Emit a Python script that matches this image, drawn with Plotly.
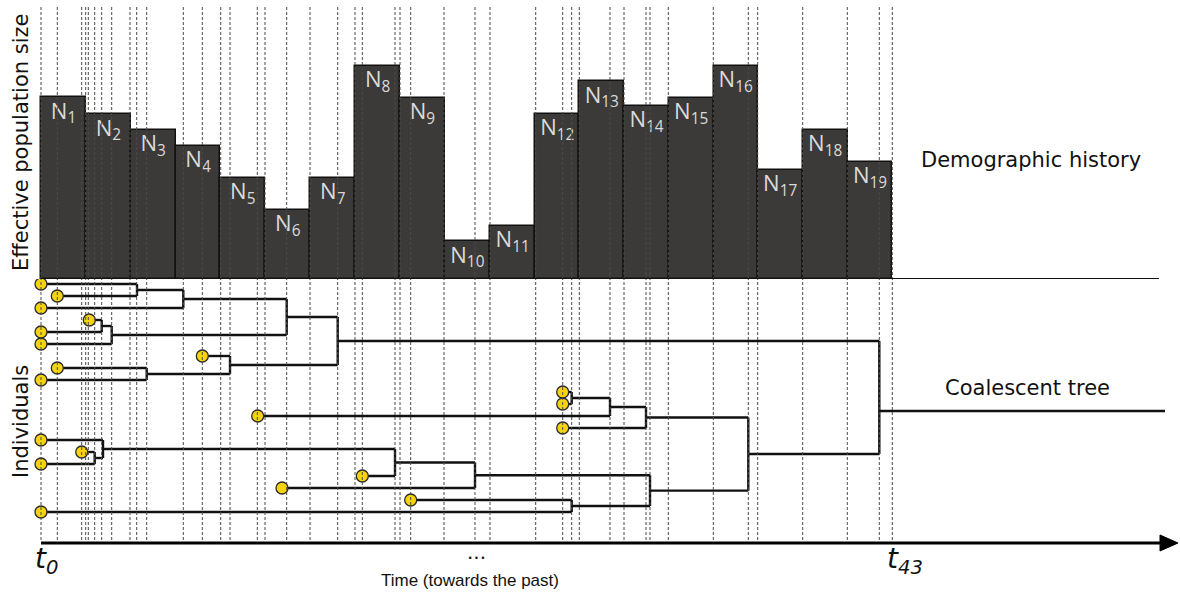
import plotly.graph_objects as go

W, H = 1180, 599

# ---------------- data ----------------
# time grid t0..t43 (time units, t0 = 0)
time_points = [0, 16.3, 40.7, 44.7, 47.3, 53.7, 60.7, 70.7, 89, 95.7, 105.7, 142.3,
               161.3, 179.7, 189, 216.3, 224, 245.7, 269, 296.7, 314, 321.3, 354, 359,
               369.7, 403, 434, 449, 494.7, 521.7, 530.7, 538.3, 569, 583, 605, 609,
               627.3, 672.3, 707.3, 716.7, 761.7, 806.3, 838.3, 851.3]

# demographic epochs (piecewise constant Ne)
epoch_starts = [0, 45, 89.7, 134.7, 179.3, 224.3, 269.3, 314.3, 359, 403.7, 449,
                494.3, 538.3, 583.3, 627.7, 672.7, 716.7, 761.7, 806.7]
epoch_end = 851.3
pop_sizes = [182, 165, 149.5, 133.5, 101.5, 69.5, 101.5, 213.5, 181.5, 38, 53.5,
             165.5, 198, 173.5, 181.5, 213.5, 109.5, 149.5, 117.5]
epoch_labels = ["N<sub>%d</sub>" % (i + 1) for i in range(19)]

# sampled individuals (row order top->bottom) and sampling times
leaf_names = ["A", "B", "C", "D", "E", "F", "G", "H", "I", "R", "S", "J", "T",
              "K", "L", "M", "N", "O", "P", "Q"]
leaf_times = [0, 16.3, 0, 48.3, 0, 0, 161.3, 16.3, 0, 521.7, 521.7, 216.7, 521.7,
              0, 40.7, 0, 321.3, 241, 369.7, 0]

# coalescent events: (node, child1, child2, time)
node_names = ["n1", "n2", "n3", "n4", "n5", "n6", "n7", "n8", "n9", "n10", "n11",
              "n12", "n13", "n14", "n15", "n16", "n17", "n18", "root"]
node_child1 = ["A", "n1", "D", "n3", "n2", "H", "G", "n5", "L", "K", "n10", "n11",
               "P", "n12", "R", "n15", "n16", "n17", "n8"]
node_child2 = ["B", "C", "E", "F", "n4", "I", "n6", "n7", "M", "n9", "N", "O",
               "Q", "n13", "S", "J", "T", "n14", "n18"]
node_times = [96, 142.3, 60.7, 70.7, 245.7, 105.7, 189, 296.7, 53.7, 62, 354, 434,
              530.7, 609, 530.7, 569, 605, 707.3, 838.3]
root_out_row = 10.58

# ---------------- geometry helpers ----------------
x0_px = 41            # pixel of t0
base_px = 279         # baseline of demography panel
row0_px, row_step = 284, 12


def px(xp):
    return xp / W


def py(yp):
    return 1 - yp / H


fig = go.Figure()

# demography bars
widths = [(epoch_starts[i + 1] if i + 1 < len(epoch_starts) else epoch_end) - s
          for i, s in enumerate(epoch_starts)]
centers = [s + w / 2 for s, w in zip(epoch_starts, widths)]
fig.add_trace(go.Bar(x=centers, y=pop_sizes, width=widths, base=0,
                     marker=dict(color="#3b3a38", line=dict(color="#111111", width=1.5)),
                     xaxis="x", yaxis="y", hoverinfo="skip", showlegend=False))
fig.add_trace(go.Scatter(x=centers, y=[h - 16 for h in pop_sizes], mode="text",
                         text=epoch_labels,
                         textfont=dict(family="Open Sans", size=22, color="#dadada"),
                         xaxis="x", yaxis="y", hoverinfo="skip", showlegend=False))

# tree
ypos = {n: i for i, n in enumerate(leaf_names)}
tpos = {n: t for n, t in zip(leaf_names, leaf_times)}
for n, c1, c2, t in zip(node_names, node_child1, node_child2, node_times):
    ypos[n] = (ypos[c1] + ypos[c2]) / 2
    tpos[n] = t
lx, ly = [], []
for n, c1, c2, t in zip(node_names, node_child1, node_child2, node_times):
    for c in (c1, c2):
        lx += [tpos[c], t, None]
        ly += [ypos[c], ypos[c], None]
    lx += [t, t, None]
    ly += [ypos[c1], ypos[c2], None]
# root connector to label
lx += [node_times[-1], 1165 - x0_px, None]
ly += [root_out_row, root_out_row, None]
fig.add_trace(go.Scatter(x=lx, y=ly, mode="lines",
                         line=dict(color="#111111", width=2.4),
                         xaxis="x", yaxis="y2", hoverinfo="skip", showlegend=False))
fig.add_trace(go.Scatter(x=leaf_times, y=list(range(len(leaf_names))), mode="markers",
                         marker=dict(size=12, color="#f5d40f",
                                     line=dict(color="#2a2a2a", width=1.3)),
                         xaxis="x", yaxis="y2", hoverinfo="skip", showlegend=False))

shapes = []
# vertical dashed time lines
for t in time_points:
    shapes.append(dict(type="line", xref="x", yref="paper", x0=t, x1=t,
                       y0=py(540), y1=py(5),
                       line=dict(color="#4a4a4a", width=1, dash="3px,2px"),
                       layer="above"))
# demography baseline
shapes.append(dict(type="line", xref="x", yref="y", x0=0, x1=1159 - x0_px, y0=0, y1=0,
                   line=dict(color="#111111", width=2), layer="above"))
# time axis arrow
ax_y = 543
shapes.append(dict(type="line", xref="paper", yref="paper", x0=px(x0_px), x1=px(1165),
                   y0=py(ax_y), y1=py(ax_y), line=dict(color="#000000", width=3)))
tip, back, half = 1178, 1160, 8
shapes.append(dict(type="path", xref="paper", yref="paper",
                   path="M %f %f L %f %f L %f %f Z" % (px(tip), py(ax_y), px(back), py(ax_y - half),
                                                        px(back), py(ax_y + half)),
                   fillcolor="#000000", line=dict(color="#000000", width=1)))

ann = []


def label(text, xp, yp, size, angle=0, family="DejaVu Sans", color="#111111"):
    ann.append(dict(text=text, x=px(xp), y=py(yp), xref="paper", yref="paper",
                    showarrow=False, textangle=angle, xanchor="center", yanchor="middle",
                    font=dict(family=family, size=size, color=color)))


label("Effective population size", 21, 143, 21, -90)
label("Individuals", 21, 422, 21, -90)
label("Demographic history", 1031, 160, 21)
label("Coalescent tree", 1027, 388, 21)
label("<i>t<sub>0</sub></i>", 47, 560, 28)
label("<i>t<sub>43</sub></i>", 905, 560, 28)
label("...", 476, 552, 20)
label("Time (towards the past)", 470, 580, 17, family="Liberation Sans")

fig.update_layout(
    width=W, height=H, margin=dict(l=0, r=0, t=0, b=0),
    paper_bgcolor="white", plot_bgcolor="white",
    xaxis=dict(range=[-x0_px, W - x0_px], visible=False, fixedrange=True),
    yaxis=dict(domain=[py(base_px), 1], range=[0, base_px], visible=False),
    yaxis2=dict(domain=[0, py(base_px)],
                range=[(H - row0_px) / row_step, (base_px - row0_px) / row_step],
                visible=False),
    bargap=0, shapes=shapes, annotations=ann,
)

fig.write_html("out.html", config={"displayModeBar": False},
               post_script="document.body.style.margin='0';document.body.style.padding='0';")
